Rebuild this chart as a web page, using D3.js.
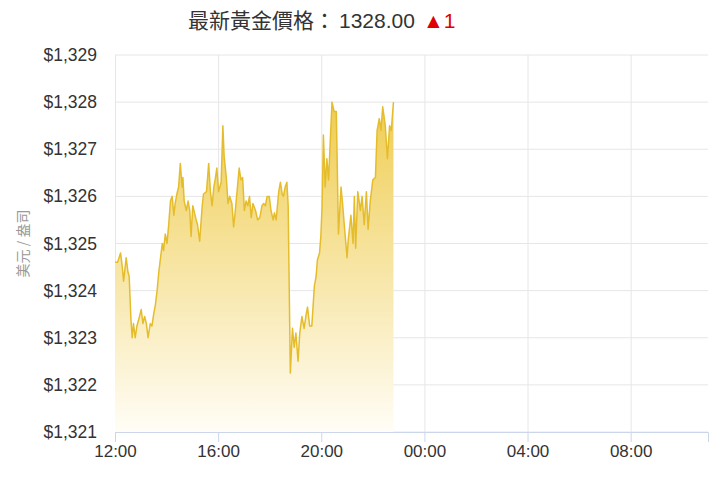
<!DOCTYPE html>
<html>
<head>
<meta charset="utf-8">
<script src="https://cdn.jsdelivr.net/npm/d3@7"></script>
<style>
  html, body { margin: 0; padding: 0; background: #fff; }
  svg { display: block; font-family: "Liberation Sans", Arial, "Noto Sans CJK TC", sans-serif; }
</style>
</head>
<body>
<script>
const times = [
  "12:00","12:06","12:13","12:17","12:20","12:26","12:30","12:33","12:37","12:40",
  "12:43","12:47","12:51","12:57","13:01","13:05","13:09","13:13","13:17","13:22",
  "13:26","13:30","13:34","13:38","13:42","13:46","13:50","13:53","13:57","14:01",
  "14:05","14:09","14:13","14:17","14:20","14:24","14:28","14:32","14:36","14:38",
  "14:41","14:46","14:50","14:54","14:57","15:01","15:05","15:09","15:12","15:17",
  "15:23","15:26","15:33","15:38","15:42","15:46","15:50","15:53","15:57","16:01",
  "16:07","16:11","16:14","16:19","16:23","16:27","16:32","16:36","16:40","16:44",
  "16:49","16:53","16:57","17:01","17:05","17:09","17:13","17:17","17:21","17:27",
  "17:32","17:37","17:42","17:46","17:50","17:54","17:59","18:03","18:08","18:11",
  "18:15","18:21","18:25","18:29","18:32","18:36","18:40","18:43","18:48","18:53",
  "18:57","19:01","19:06","19:10","19:15","19:20","19:25","19:28","19:33","19:38",
  "19:44","19:48","19:51","19:56","19:59","20:02","20:05","20:09","20:13","20:17",
  "20:25","20:30","20:35","20:40","20:46","20:50","20:54","21:00","21:03","21:09",
  "21:14","21:17","21:20","21:25","21:31","21:35","21:40","21:45","21:49","21:54",
  "22:00","22:06","22:10","22:15","22:19","22:23","22:29","22:34","22:39","22:43",
  "22:48"
];
const prices = [
  1324.6,1324.6,1324.8,1324.5,1324.2,1324.7,1324.4,1324.3,1323.4,1323.0,
  1323.3,1323.0,1323.25,1323.45,1323.6,1323.3,1323.45,1323.3,1323.0,1323.3,
  1323.25,1323.5,1323.7,1324.0,1324.4,1324.7,1325.0,1324.85,1325.2,1325.0,
  1325.4,1325.9,1326.0,1325.6,1325.85,1326.05,1326.2,1326.7,1326.2,1326.4,
  1325.9,1325.7,1325.9,1325.7,1325.15,1325.8,1325.65,1325.5,1325.4,1325.05,
  1325.8,1326.05,1326.1,1326.7,1326.1,1325.8,1326.2,1326.35,1326.6,1326.1,
  1326.3,1327.5,1326.85,1326.4,1325.85,1326.0,1325.85,1325.35,1325.7,1326.1,
  1326.6,1326.35,1326.4,1325.7,1325.9,1325.8,1326.0,1325.55,1325.85,1325.7,
  1325.5,1325.55,1325.8,1325.85,1325.8,1326.0,1326.0,1325.7,1325.5,1325.65,
  1325.5,1326.1,1326.3,1326.05,1326.0,1326.2,1326.3,1325.8,1322.25,1323.2,
  1322.8,1323.1,1322.5,1323.1,1323.45,1323.2,1323.5,1323.65,1323.25,1323.25,
  1324.1,1324.3,1324.65,1324.8,1325.15,1325.8,1327.3,1326.2,1326.8,1326.35,
  1328.0,1327.8,1327.8,1325.2,1326.2,1325.8,1325.35,1324.7,1325.1,1325.6,
  1325.0,1326.0,1324.9,1326.1,1325.7,1326.0,1325.4,1326.1,1325.3,1325.9,
  1326.35,1326.4,1327.4,1327.65,1327.4,1327.9,1327.5,1326.8,1327.5,1327.4,
  1328.0
];
const yTicks = [1321, 1322, 1323, 1324, 1325, 1326, 1327, 1328, 1329];
const xTickLabels = ["12:00", "16:00", "20:00", "00:00", "04:00", "08:00"];
const xStart = "12:00", xEnd = "11:00";
const latestPrice = "1328.00", latestChange = "1";

const width = 720, height = 480;
const margin = { top: 55, right: 12, bottom: 48, left: 115 };

// times before noon belong to the next day
const toDate = s => {
  const [h, m] = s.split(":").map(Number);
  return new Date(2018, 0, h < 12 ? 2 : 1, h, m);
};
const data = times.map((t, i) => ({ t: toDate(t), v: prices[i] }));

const x = d3.scaleTime()
  .domain([toDate(xStart), toDate(xEnd)])
  .range([margin.left, width - margin.right]);
const y = d3.scaleLinear()
  .domain([d3.min(yTicks), d3.max(yTicks)])
  .range([height - margin.bottom, margin.top]);

const svg = d3.select("body").append("svg")
  .attr("width", width)
  .attr("height", height);

const grad = svg.append("defs").append("linearGradient")
  .attr("id", "fillGrad")
  .attr("x1", 0).attr("y1", 0).attr("x2", 0).attr("y2", 1);
grad.append("stop").attr("offset", "0%").attr("stop-color", "#efcd52");
grad.append("stop").attr("offset", "100%").attr("stop-color", "#fffdf6");

// horizontal grid
svg.append("g")
  .selectAll("line")
  .data(yTicks)
  .join("line")
  .attr("x1", margin.left).attr("x2", width - margin.right)
  .attr("y1", d => y(d)).attr("y2", d => y(d))
  .attr("stroke", "#e6e6e6");

// vertical grid
const xTickDates = xTickLabels.map(toDate);
svg.append("g")
  .selectAll("line")
  .data(xTickDates)
  .join("line")
  .attr("x1", d => x(d) + 0.5).attr("x2", d => x(d) + 0.5)
  .attr("y1", margin.top).attr("y2", height - margin.bottom)
  .attr("stroke", "#e6e6e6");

// area + line
const area = d3.area()
  .x(d => x(d.t))
  .y0(y(d3.min(yTicks)))
  .y1(d => y(d.v));
const line = d3.line()
  .x(d => x(d.t))
  .y(d => y(d.v));

svg.append("path")
  .datum(data)
  .attr("d", area)
  .attr("fill", "url(#fillGrad)");
svg.append("path")
  .datum(data)
  .attr("d", line)
  .attr("fill", "none")
  .attr("stroke", "#e5bd2c")
  .attr("stroke-width", 1.5)
  .attr("stroke-linejoin", "round");

// x axis
const xAxis = svg.append("g")
  .attr("transform", `translate(0,${height - margin.bottom})`)
  .call(d3.axisBottom(x)
    .tickValues(xTickDates)
    .tickFormat(d3.timeFormat("%H:%M"))
    .tickSize(10)
    .tickPadding(3));
xAxis.select(".domain").attr("stroke", "#ccd6eb");
xAxis.selectAll(".tick line").attr("stroke", "#ccd6eb");
xAxis.selectAll("text")
  .attr("font-size", 17)
  .attr("fill", "#333")
  .attr("font-family", "Liberation Sans, Arial, sans-serif");

// y axis
const yAxis = svg.append("g")
  .attr("transform", `translate(${margin.left},0)`)
  .call(d3.axisLeft(y)
    .tickValues(yTicks)
    .tickFormat(d => "$" + d3.format(",")(d))
    .tickSize(0)
    .tickPadding(18));
yAxis.select(".domain").remove();
yAxis.selectAll("text")
  .attr("font-size", 17.5)
  .attr("fill", "#333")
  .attr("font-family", "Liberation Sans, Arial, sans-serif");

// y axis title
svg.append("text")
  .attr("transform", `translate(28,${(margin.top + height - margin.bottom) / 2})`
    + " rotate(-90)")
  .attr("text-anchor", "middle")
  .attr("font-size", 14)
  .attr("fill", "#999")
  .attr("font-family", "Noto Sans CJK TC, sans-serif")
  .text("美元 / 盎司");

// title
const title = svg.append("text")
  .attr("x", 188)
  .attr("y", 28)
  .attr("font-size", 21)
  .attr("fill", "#333");
title.append("tspan")
  .attr("font-family", "Noto Sans CJK TC, sans-serif")
  .text("最新黃金價格：");
title.append("tspan")
  .attr("dx", 4)
  .attr("font-family", "Liberation Sans, Arial, sans-serif")
  .text(latestPrice);
title.append("tspan")
  .attr("dx", 8)
  .attr("font-family", "Liberation Sans, Arial, sans-serif")
  .attr("fill", "#e00000")
  .text("▲" + latestChange);
</script>
</body>
</html>
